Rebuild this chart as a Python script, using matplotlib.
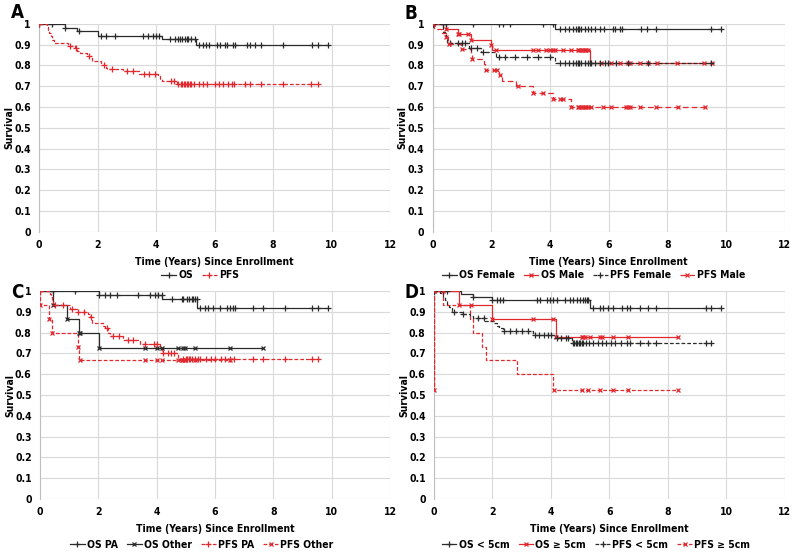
import numpy as np
import matplotlib
matplotlib.use("Agg")
import matplotlib.pyplot as plt
from matplotlib.lines import Line2D

plt.rcParams['font.family'] = ['DejaVu Sans']
plt.rcParams['font.stretch'] = 'condensed'
plt.rcParams['font.weight'] = 'bold'

# ---------------- Panel A ----------------
a_os_t = [0.88, 1.30, 2.00, 4.19, 5.38]
a_os_s = [0.978, 0.967, 0.943, 0.927, 0.900]
a_os_c = [0.0, 0.45, 0.88, 1.35, 2.12, 2.3, 2.6, 3.56, 3.73, 3.9, 4.0, 4.1, 4.47, 4.64, 4.76,
          4.81, 4.9, 4.98, 5.04, 5.1, 5.2, 5.33, 5.47, 5.61, 5.72, 5.82, 6.07, 6.19, 6.36,
          6.42, 6.64, 6.7, 7.1, 7.21, 7.38, 7.6, 8.35, 9.32, 9.55, 9.89]
a_pfs_t = [0.25, 0.30, 0.35, 0.40, 0.45, 0.52, 0.99, 1.22, 1.30, 1.38, 1.64, 1.76, 1.80,
           2.13, 2.20, 2.28, 2.33, 2.85, 3.42, 4.07, 4.13, 4.19, 4.70]
a_pfs_s = [0.985, 0.97, 0.955, 0.94, 0.925, 0.908, 0.895, 0.883, 0.872, 0.86, 0.848, 0.835,
           0.822, 0.81, 0.80, 0.79, 0.785, 0.773, 0.76, 0.748, 0.737, 0.727, 0.711]
a_pfs_c = [0.0, 1.05, 1.25, 1.7, 2.2, 2.5, 3.0, 3.2, 3.6, 3.75, 3.95, 4.5, 4.62, 4.75, 4.85,
           4.9, 4.95, 5.0, 5.05, 5.1, 5.15, 5.2, 5.3, 5.45, 5.6, 5.75, 6.0, 6.15, 6.3, 6.45,
           6.6, 6.65, 7.05, 7.2, 7.6, 8.35, 9.3, 9.52]

# ---------------- Panel B ----------------
b_osf_t = [4.17]
b_osf_s = [0.975]
b_osf_c = [0.0, 0.34, 0.46, 1.37, 2.25, 2.39, 2.62, 3.75, 4.1, 4.32, 4.49, 4.66, 4.78, 4.89,
           4.95, 5.0, 5.06, 5.18, 5.29, 5.4, 5.52, 5.69, 5.83, 6.14, 6.2, 6.38, 6.44, 7.09,
           7.3, 7.6, 9.48, 9.82]
b_osm_t = [0.46, 0.85, 1.30, 2.0, 2.02, 5.35]
b_osm_s = [0.975, 0.95, 0.925, 0.90, 0.875, 0.813]
b_osm_c = [0.0, 0.46, 0.85, 0.9, 1.2, 1.3, 2.0, 2.16, 3.41, 3.58, 3.87, 3.98, 4.1, 4.15, 4.44,
           4.72, 4.95, 5.0, 5.06, 5.12, 5.18, 5.23, 5.29, 5.72, 6.07, 6.38, 6.65, 6.72, 7.06,
           7.33, 7.64, 8.32, 9.24, 9.51]
b_pfsf_t = [0.34, 0.40, 0.45, 0.50, 1.25, 1.65, 2.16, 4.17]
b_pfsf_s = [0.96, 0.945, 0.93, 0.91, 0.885, 0.865, 0.84, 0.813]
b_pfsf_c = [0.0, 0.6, 0.85, 1.0, 1.1, 1.3, 1.5, 1.7, 2.25, 2.45, 2.8, 3.2, 3.6, 4.0, 4.32,
            4.49, 4.66, 4.78, 4.89, 4.95, 5.0, 5.06, 5.18, 5.29, 5.35, 5.4, 5.52, 5.69, 5.86,
            5.97, 6.24, 6.65, 7.33, 9.5]
b_pfsm_t = [0.05, 0.32, 0.45, 0.52, 0.97, 1.30, 1.32, 1.76, 1.78, 2.27, 2.37, 2.84, 3.41,
            4.10, 4.72]
b_pfsm_s = [0.975, 0.955, 0.935, 0.905, 0.88, 0.85, 0.83, 0.805, 0.78, 0.755, 0.725, 0.70,
            0.67, 0.64, 0.60]
b_pfsm_c = [0.0, 0.45, 0.55, 1.0, 1.35, 1.8, 2.1, 2.2, 2.3, 2.9, 3.41, 3.75, 4.1, 4.32, 4.44,
            4.72, 4.95, 5.0, 5.06, 5.12, 5.18, 5.23, 5.29, 5.4, 5.8, 6.09, 6.6, 6.66, 6.71,
            7.05, 7.62, 8.36, 9.27]

# ---------------- Panel C ----------------
c_ospa_t = [2.02, 4.19, 5.39]
c_ospa_s = [0.98, 0.96, 0.92]
c_ospa_c = [0.46, 1.2, 2.02, 2.23, 2.4, 2.63, 3.37, 3.77, 3.94, 4.06, 4.17, 4.51, 4.86, 4.91,
            5.03, 5.12, 5.2, 5.26, 5.31, 5.37, 5.49, 5.66, 5.77, 5.94, 6.17, 6.4, 6.51, 6.63,
            6.69, 7.31, 7.66, 8.4, 9.31, 9.54, 9.89]
c_osot_t = [0.46, 0.91, 1.35, 2.02]
c_osot_s = [0.933, 0.867, 0.80, 0.727]
c_osot_c = [0.46, 0.91, 1.35, 1.38, 2.02, 3.6, 4.0, 4.17, 4.74, 4.91, 4.97, 5.31, 6.51, 7.63]
c_pfspa_t = [0.34, 0.38, 0.42, 0.46, 1.03, 1.28, 1.66, 1.71, 1.79, 2.17, 2.22, 2.34, 2.40,
             2.86, 3.43, 4.11, 4.19, 4.74]
c_pfspa_s = [0.985, 0.97, 0.955, 0.933, 0.913, 0.90, 0.89, 0.875, 0.845, 0.83, 0.82, 0.80,
             0.785, 0.765, 0.745, 0.725, 0.70, 0.675]
c_pfspa_c = [0.0, 0.5, 0.8, 1.1, 1.3, 1.5, 1.75, 2.3, 2.5, 2.7, 3.0, 3.2, 3.6, 3.9, 4.0, 4.2,
             4.4, 4.5, 4.6, 4.9, 5.0, 5.05, 5.1, 5.15, 5.2, 5.3, 5.4, 5.5, 5.7, 5.85, 6.0,
             6.2, 6.35, 6.5, 6.65, 7.3, 7.66, 8.4, 9.31, 9.54]
c_pfsot_t = [0.0, 0.32, 0.40, 1.31, 1.34]
c_pfsot_s = [0.933, 0.867, 0.80, 0.733, 0.667]
c_pfsot_c = [0.0, 0.32, 0.40, 1.31, 1.36, 3.6, 4.0, 4.17, 4.74, 4.86, 4.91, 4.97, 5.31, 6.51]

# ---------------- Panel D ----------------
d_oslt_t = [0.91, 1.32, 2.0, 5.33]
d_oslt_s = [0.988, 0.972, 0.957, 0.92]
d_oslt_c = [0.0, 0.32, 0.43, 1.32, 2.0, 2.14, 2.25, 2.37, 3.51, 3.62, 3.85, 3.97, 4.08, 4.2,
            4.48, 4.65, 4.77, 4.88, 5.0, 5.11, 5.17, 5.22, 5.28, 5.45, 5.68, 5.79, 5.96, 6.13,
            6.42, 6.59, 6.7, 7.04, 7.33, 7.61, 9.32, 9.49, 9.83]
d_osge_t = [0.87, 2.0, 4.17]
d_osge_s = [0.933, 0.867, 0.778]
d_osge_c = [0.0, 0.32, 0.87, 1.25, 2.0, 3.4, 4.08, 4.17, 5.05, 5.1, 5.16, 5.33, 5.68, 5.73,
            6.13, 6.64, 8.35]
d_pfslt_t = [0.2, 0.32, 0.38, 0.45, 0.5, 0.6, 0.95, 1.23, 1.34, 1.74, 2.05, 2.15, 2.22, 2.35,
             3.4, 4.14, 4.71]
d_pfslt_s = [0.99, 0.97, 0.955, 0.94, 0.925, 0.90, 0.89, 0.88, 0.87, 0.855, 0.845, 0.83,
             0.82, 0.81, 0.79, 0.775, 0.752]
d_pfslt_c = [0.0, 0.7, 1.0, 1.5, 1.7, 2.4, 2.6, 2.8, 3.0, 3.2, 3.45, 3.6, 3.75, 3.9, 4.0, 4.2,
             4.35, 4.5, 4.6, 4.75, 4.8, 4.85, 4.9, 4.95, 5.0, 5.05, 5.1, 5.2, 5.3, 5.45, 5.6,
             5.75, 5.9, 6.05, 6.2, 6.4, 6.6, 6.7, 7.04, 7.33, 7.61, 9.32, 9.49]
d_pfsge_t = [0.0, 0.0, 0.32, 1.23, 1.32, 1.63, 1.78, 2.85, 4.08]
d_pfsge_s = [0.525, 1.0, 0.933, 0.867, 0.80, 0.733, 0.667, 0.60, 0.525]
d_pfsge_c = [4.1, 5.05, 5.28, 5.68, 6.13, 6.64, 8.35]
d_pfsge_extra = ([0.0, 0.0], [0.525, 1.0])

x_ticks = [0, 2, 4, 6, 8, 10, 12]
y_ticks = [0, 0.1, 0.2, 0.3, 0.4, 0.5, 0.6, 0.7, 0.8, 0.9, 1.0]
y_ticklabels = ["0", "0.1", "0.2", "0.3", "0.4", "0.5", "0.6", "0.7", "0.8", "0.9", "1"]

BLACK = "#2b2b2b"
RED = "#e0282e"
DASH = (0, (3.0, 1.6))
FS = 7.5


def km(ax, t, s, c, color, ls, marker, ms, extra=None):
    xs = [0.0] + list(t)
    ys = [1.0] + list(s)
    end = max(list(c) + list(t))
    xs.append(end)
    ys.append(ys[-1])
    ax.plot(xs, ys, drawstyle='steps-post', color=color, lw=0.9, ls=ls, zorder=3)
    tt = np.array(t)
    ss = np.array(s)
    cy = []
    for ci in c:
        idx = np.searchsorted(tt, ci, side='right')
        cy.append(1.0 if idx == 0 else ss[idx - 1])
    cx = list(c)
    if extra is not None:
        cx += list(extra[0])
        cy += list(extra[1])
    ax.plot(cx, cy, ls='none', marker=marker, ms=ms, mew=0.9, color=color, zorder=4)
    return Line2D([], [], color=color, lw=0.9, ls=ls, marker=marker, ms=ms, mew=0.9)


def style(ax, letter, fig, lx, ly):
    ax.set_xlim(0, 12)
    ax.set_ylim(0, 1)
    ax.set_xticks(x_ticks)
    ax.set_yticks(y_ticks)
    ax.set_yticklabels(y_ticklabels)
    ax.grid(True, color="#d9d9d9", lw=0.8, zorder=0)
    ax.set_axisbelow(True)
    for sp in ['top', 'right', 'bottom']:
        ax.spines[sp].set_visible(False)
    ax.spines['left'].set_color("#bfbfbf")
    ax.tick_params(length=0, labelsize=FS, pad=6)
    for lab in ax.get_xticklabels() + ax.get_yticklabels():
        lab.set_fontweight('bold')
    ax.set_xlabel("Time (Years) Since Enrollment", fontsize=FS, fontweight='bold', labelpad=5)
    ax.set_ylabel("Survival", fontsize=FS, fontweight='bold', labelpad=0)
    fig.text(lx, ly, letter, fontsize=13.5, fontweight='bold', ha='left', va='center')


fig = plt.figure(figsize=(8, 5.56), dpi=100)
fig.patch.set_facecolor('white')

axA = fig.add_axes([0.049, 0.583, 0.4385, 0.374])
axB = fig.add_axes([0.541, 0.583, 0.440, 0.374])
axC = fig.add_axes([0.050, 0.1025, 0.4375, 0.374])
axD = fig.add_axes([0.5425, 0.1025, 0.4385, 0.374])

LEG = dict(loc='center', frameon=False, fontsize=FS, handlelength=1.4, columnspacing=0.9,
           handletextpad=0.2)

# A
h1 = km(axA, a_os_t, a_os_s, a_os_c, BLACK, '-', '+', 4)
h2 = km(axA, a_pfs_t, a_pfs_s, a_pfs_c, RED, DASH, '+', 4)
style(axA, "A", fig, 0.014, 0.977)
fig.legend([h1, h2], ["OS", "PFS"], bbox_to_anchor=(0.25, 0.505), ncol=2, **LEG)

# B
h1 = km(axB, b_osf_t, b_osf_s, b_osf_c, BLACK, '-', '+', 4)
h2 = km(axB, b_osm_t, b_osm_s, b_osm_c, RED, '-', 'x', 3)
h3 = km(axB, b_pfsf_t, b_pfsf_s, b_pfsf_c, BLACK, DASH, '+', 4)
h4 = km(axB, b_pfsm_t, b_pfsm_s, b_pfsm_c, RED, (0, (4.5, 2.5)), 'x', 3)
style(axB, "B", fig, 0.505, 0.975)
fig.legend([h1, h2, h3, h4], ["OS Female", "OS Male", "PFS Female", "PFS Male"],
           bbox_to_anchor=(0.742, 0.505), ncol=4, **LEG)

# C
h1 = km(axC, c_ospa_t, c_ospa_s, c_ospa_c, BLACK, '-', '+', 4)
h2 = km(axC, c_osot_t, c_osot_s, c_osot_c, BLACK, '-', 'x', 3)
h3 = km(axC, c_pfspa_t, c_pfspa_s, c_pfspa_c, RED, DASH, '+', 4)
h4 = km(axC, c_pfsot_t, c_pfsot_s, c_pfsot_c, RED, DASH, 'x', 3)
style(axC, "C", fig, 0.014, 0.474)
fig.legend([h1, h2, h3, h4], ["OS PA", "OS Other", "PFS PA", "PFS Other"],
           bbox_to_anchor=(0.252, 0.02), ncol=4, **LEG)

# D
h1 = km(axD, d_oslt_t, d_oslt_s, d_oslt_c, BLACK, '-', '+', 4)
h2 = km(axD, d_osge_t, d_osge_s, d_osge_c, RED, '-', 'x', 3)
h3 = km(axD, d_pfslt_t, d_pfslt_s, d_pfslt_c, BLACK, DASH, '+', 4)
h4 = km(axD, d_pfsge_t, d_pfsge_s, d_pfsge_c, RED, DASH, 'x', 3, extra=d_pfsge_extra)
style(axD, "D", fig, 0.505, 0.474)
fig.legend([h1, h2, h3, h4], ["OS < 5cm", "OS ≥ 5cm", "PFS < 5cm", "PFS ≥ 5cm"],
           bbox_to_anchor=(0.745, 0.02), ncol=4, **LEG)

fig.savefig("out.png", dpi=100)
